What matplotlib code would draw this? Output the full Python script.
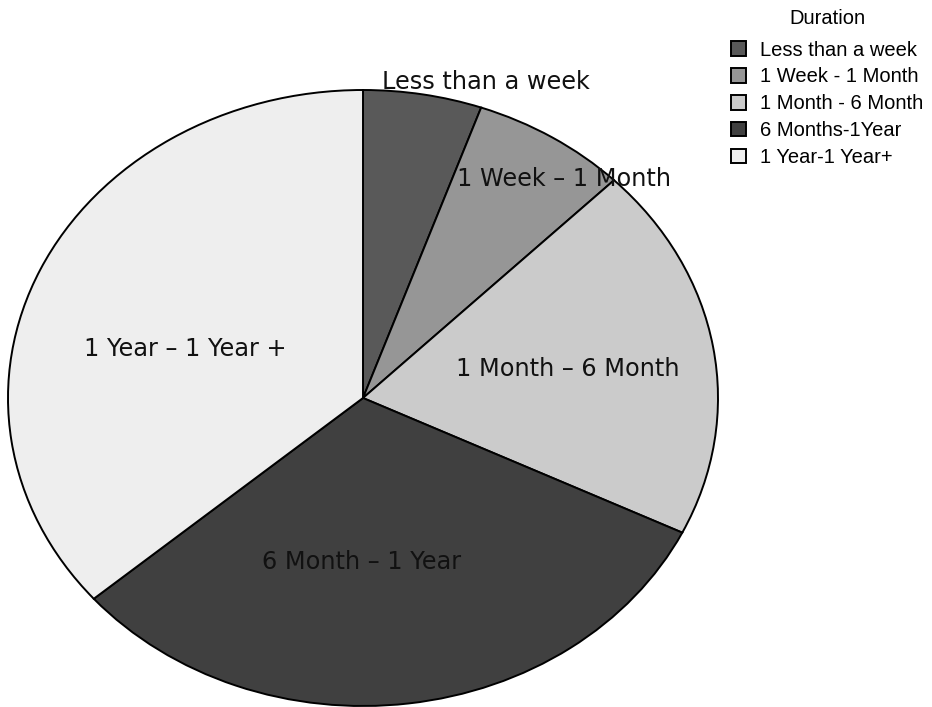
import matplotlib
matplotlib.use('Agg')
import matplotlib.pyplot as plt

# Duration shares (percent of responses)
categories = ['Less than a week', '1 Week - 1 Month', '1 Month - 6 Month',
              '6 Months-1Year', '1 Year-1 Year+']
shares = [5.4, 7.1, 19.7, 31.5, 36.3]
slice_labels = ['Less than a week', '1 Week \u2013 1 Month', '1 Month \u2013 6 Month',
                '6 Month \u2013 1 Year', '1 Year \u2013 1 Year +']
colors = ['#595959', '#969696', '#cbcbcb', '#404040', '#eeeeee']

# label positions inside the (normalised) pie
label_pos = [(0.346, 1.025), (0.566, 0.712), (0.578, 0.094), (-0.003, -0.532), (-0.501, 0.159)]

W, H = 932, 707
fig = plt.figure(figsize=(W / 100, H / 100), dpi=100)

# pie is drawn as an ellipse: centre (363, 398) px, radii 355 x 308 px
cx, cy, rx, ry = 363, 398, 355, 308
ax = fig.add_axes([(cx - rx) / W, (H - cy - ry) / H, 2 * rx / W, 2 * ry / H])

wedges, _ = ax.pie(shares, colors=colors, startangle=90, counterclock=False,
                   wedgeprops=dict(edgecolor='black', linewidth=1.4))
ax.set_aspect('auto')
ax.set_xlim(-1, 1)
ax.set_ylim(-1, 1)
ax.axis('off')

for (x, y), txt in zip(label_pos, slice_labels):
    ax.text(x, y, txt, ha='center', va='center', fontsize=17.3,
            family='DejaVu Sans', color='#111111', clip_on=False)

leg = fig.legend(wedges, categories, title='Duration', loc='upper left',
                 bbox_to_anchor=(731 / W, 1 - 9 / H), frameon=False,
                 prop={'family': 'Liberation Sans', 'size': 14.5},
                 title_fontproperties={'family': 'Liberation Sans', 'size': 14.5},
                 handlelength=0.75, handleheight=0.75, handletextpad=0.7,
                 labelspacing=0.39, borderpad=0, borderaxespad=0)
leg._legend_box.sep = 9

fig.savefig('out.png', dpi=100)
